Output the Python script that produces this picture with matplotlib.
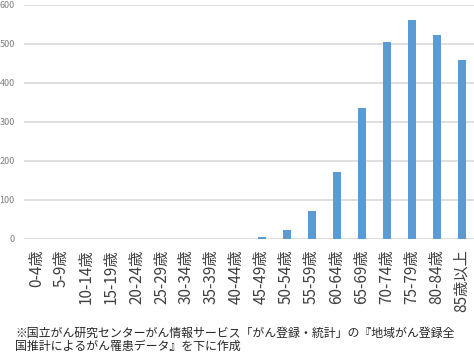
import matplotlib
matplotlib.use('Agg')
import matplotlib.pyplot as plt
import numpy as np

plt.rcParams['font.family'] = ['Noto Sans CJK JP', 'DejaVu Sans']

# data
age_groups = ['0-4歳', '5-9歳', '10-14歳', '15-19歳', '20-24歳', '25-29歳',
              '30-34歳', '35-39歳', '40-44歳', '45-49歳', '50-54歳', '55-59歳',
              '60-64歳', '65-69歳', '70-74歳', '75-79歳', '80-84歳', '85歳以上']
cases = [0, 0, 0, 0, 0, 0, 0, 0, 0, 3, 22, 70, 171, 335, 504, 561, 522, 458]
y_ticks = [0, 100, 200, 300, 400, 500, 600]
note_lines = ['※国立がん研究センターがん情報サービス「がん登録・統計」の『地域がん登録全',
              '国推計によるがん罹患データ』を下に作成']

fig = plt.figure(figsize=(4.74, 3.56), dpi=100)
ax = fig.add_axes([24 / 474, 1 - 238.5 / 356, 450 / 474, 234 / 356])

x = np.arange(len(age_groups))
ax.bar(x, cases, width=0.32, color='#5b9bd5', zorder=3)

ax.set_xlim(-0.5, len(age_groups) - 0.5)
ax.set_ylim(0, 600)
ax.set_yticks(y_ticks)
ax.set_yticklabels([str(v) for v in y_ticks], fontsize=6.5, color='#7f7f7f')
ax.set_xticks(x)
ax.set_xticklabels(age_groups, rotation=90, fontsize=11, color='#404040')
ax.tick_params(axis='both', length=0)
ax.tick_params(axis='y', pad=6.5)
ax.tick_params(axis='x', pad=8)

ax.grid(axis='y', color='#d9d9d9', linewidth=1.2, zorder=0)
for s in ax.spines.values():
    s.set_visible(False)

# footnote, two lines
for i, line in enumerate(note_lines):
    fig.text(15 / 474, 1 - (333.5 + 13 * i) / 356, line, fontsize=8.6,
             color='#262626', va='center', ha='left')

fig.savefig('out.png', dpi=100)
